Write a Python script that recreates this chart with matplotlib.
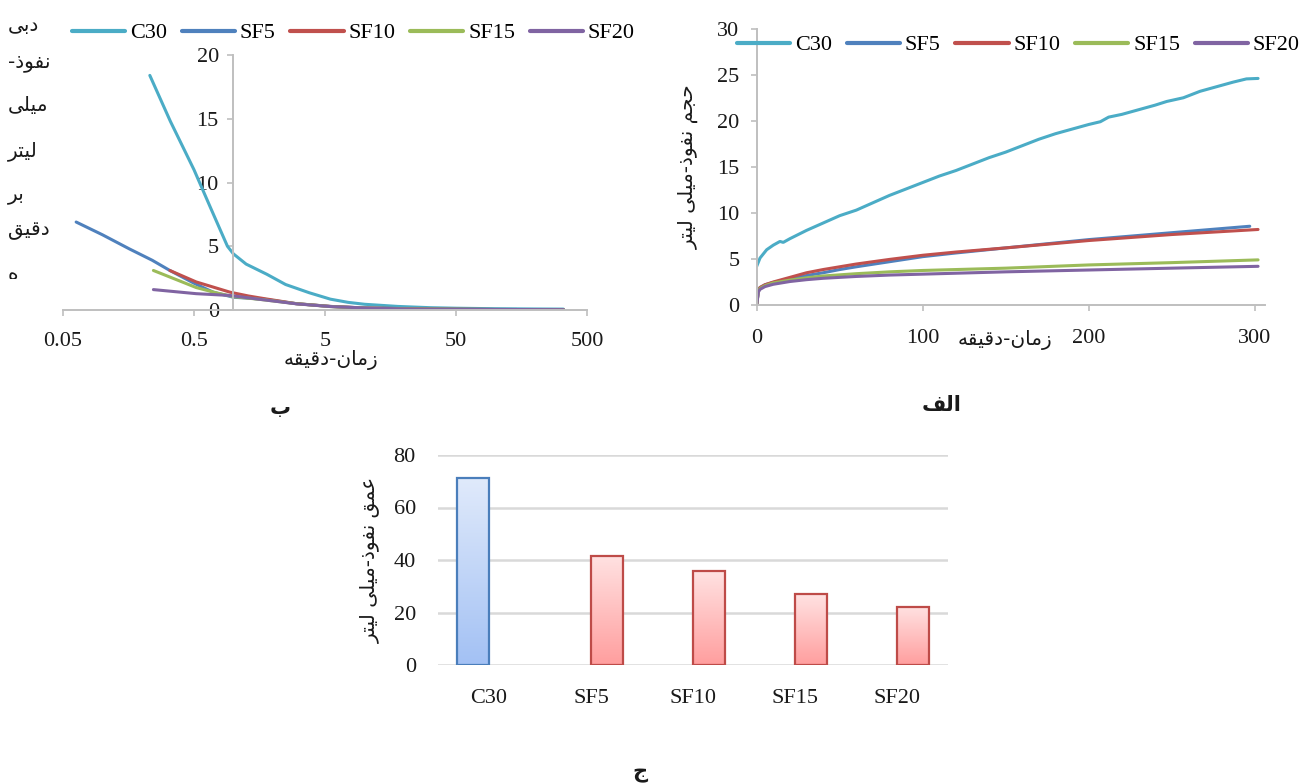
import numpy as np
import matplotlib
matplotlib.use("Agg")
import matplotlib.pyplot as plt
from matplotlib.transforms import Bbox
from matplotlib.colors import LinearSegmentedColormap

# ---------------- Persian shaping helper (matplotlib has no shaping) -------------
FORMS = {
    'ا': ('\uFE8D', '\uFE8E', None, None),
    'ب': ('\uFE8F', '\uFE90', '\uFE91', '\uFE92'),
    'ت': ('\uFE95', '\uFE96', '\uFE97', '\uFE98'),
    'ج': ('\uFE9D', '\uFE9E', '\uFE9F', '\uFEA0'),
    'ح': ('\uFEA1', '\uFEA2', '\uFEA3', '\uFEA4'),
    'د': ('\uFEA9', '\uFEAA', None, None),
    'ذ': ('\uFEAB', '\uFEAC', None, None),
    'ر': ('\uFEAD', '\uFEAE', None, None),
    'ز': ('\uFEAF', '\uFEB0', None, None),
    'ع': ('\uFEC9', '\uFECA', '\uFECB', '\uFECC'),
    'ف': ('\uFED1', '\uFED2', '\uFED3', '\uFED4'),
    'ق': ('\uFED5', '\uFED6', '\uFED7', '\uFED8'),
    'ل': ('\uFEDD', '\uFEDE', '\uFEDF', '\uFEE0'),
    'م': ('\uFEE1', '\uFEE2', '\uFEE3', '\uFEE4'),
    'ن': ('\uFEE5', '\uFEE6', '\uFEE7', '\uFEE8'),
    'ه': ('\uFEE9', '\uFEEA', '\uFEEB', '\uFEEC'),
    'و': ('\uFEED', '\uFEEE', None, None),
    'ی': ('\uFEEF', '\uFEF0', '\uFEF3', '\uFEF4'),
}


def fa(s):
    out = []
    n = len(s)
    for i, c in enumerate(s):
        if c not in FORMS:
            out.append(c)
            continue
        f = FORMS[c]
        prev = s[i - 1] if i > 0 else None
        nxt = s[i + 1] if i < n - 1 else None
        jp = prev in FORMS and FORMS[prev][2] is not None
        jn = nxt in FORMS and f[2] is not None
        if jp and jn:
            g = f[3]
        elif jp:
            g = f[1]
        elif jn:
            g = f[2]
        else:
            g = f[0]
        out.append(g)
    return ''.join(reversed(out))


# ---------------- data ----------------
series_names = ['C30', 'SF5', 'SF10', 'SF15', 'SF20']
colors = ['#4BACC6', '#4F81BD', '#C0504D', '#9BBB59', '#8064A2']

# panel (b): infiltration rate (ml/min) vs time (min), log x
c30_rate_t = [0.23, 0.33, 0.5, 0.67, 0.9, 1.0, 1.25, 1.8, 2.5, 3.8, 5.5, 7.5, 10, 18, 32, 50, 100, 200, 330]
c30_rate = [18.4, 14.8, 11.0, 8.0, 5.0, 4.4, 3.6, 2.8, 2.0, 1.35, 0.85, 0.6, 0.45, 0.28, 0.18, 0.14, 0.1, 0.08, 0.07]
sf5_rate_t = [0.063, 0.1, 0.16, 0.24, 0.327, 0.5, 0.7, 1.0, 1.7, 3.0, 5.5, 10, 32, 100, 330]
sf5_rate = [6.9, 5.9, 4.8, 3.9, 3.1, 2.1, 1.4, 1.0, 0.85, 0.5, 0.28, 0.16, 0.07, 0.04, 0.03]
sf10_rate_t = [0.327, 0.52, 0.94, 1.3, 1.7, 3.0, 5.5, 10, 32, 100, 330]
sf10_rate = [3.1, 2.2, 1.4, 1.1, 0.9, 0.5, 0.28, 0.16, 0.07, 0.04, 0.03]
sf15_rate_t = [0.245, 0.52, 0.75, 1.0, 1.7, 3.0, 5.5, 10, 32, 100, 330]
sf15_rate = [3.1, 1.76, 1.33, 1.05, 0.8, 0.5, 0.27, 0.15, 0.07, 0.04, 0.03]
sf20_rate_t = [0.245, 0.52, 0.94, 1.7, 3.05, 5.5, 10, 17.8, 32, 100, 330]
sf20_rate = [1.6, 1.28, 1.14, 0.8, 0.48, 0.27, 0.16, 0.1, 0.06, 0.04, 0.03]

# panel (a): cumulative infiltration volume (ml) vs time (min)
c30_vol_t = [0, 2, 6, 10, 14, 16, 20, 30, 40, 50, 60, 70, 80, 90, 100, 110, 120, 130, 140, 150,
             160, 170, 180, 190, 200, 207, 212, 220, 230, 240, 247, 257, 267, 277, 287, 295, 302]
c30_vol = [4.2, 5.1, 6.0, 6.5, 6.9, 6.8, 7.2, 8.1, 8.9, 9.7, 10.3, 11.1, 11.9, 12.6, 13.3, 14.0, 14.6, 15.3, 16.0, 16.6,
           17.3, 18.0, 18.6, 19.1, 19.6, 19.9, 20.4, 20.7, 21.2, 21.7, 22.1, 22.5, 23.2, 23.7, 24.2, 24.55, 24.6]
sf5_vol_t = [0, 1, 2, 5, 10, 20, 30, 40, 50, 60, 80, 100, 120, 150, 200, 250, 297]
sf5_vol = [0, 1.6, 1.9, 2.2, 2.45, 2.85, 3.2, 3.5, 3.85, 4.15, 4.7, 5.25, 5.65, 6.2, 7.1, 7.85, 8.55]
sf10_vol_t = [0, 1, 2, 5, 10, 20, 30, 40, 50, 60, 80, 100, 120, 150, 200, 250, 302]
sf10_vol = [0, 1.6, 1.9, 2.2, 2.5, 3.0, 3.5, 3.85, 4.15, 4.45, 4.95, 5.4, 5.75, 6.2, 7.0, 7.65, 8.2]
sf15_vol_t = [0, 1, 2, 5, 10, 20, 30, 40, 60, 80, 100, 150, 200, 250, 302]
sf15_vol = [0, 1.5, 1.8, 2.1, 2.4, 2.7, 2.95, 3.15, 3.4, 3.6, 3.75, 4.0, 4.35, 4.6, 4.9]
sf20_vol_t = [0, 1, 2, 5, 10, 20, 30, 40, 60, 80, 100, 150, 200, 250, 302]
sf20_vol = [0, 1.4, 1.7, 2.0, 2.25, 2.55, 2.75, 2.9, 3.1, 3.25, 3.35, 3.6, 3.8, 4.0, 4.2]

# panel (c): infiltration depth (bar chart)
bar_categories = ['C30', 'SF5', 'SF10', 'SF15', 'SF20']
depth_control = [71.2, 0, 0, 0, 0]
depth_silica = [0, 41.7, 35.8, 27.0, 22.2]

rate_x_ticks = [0.05, 0.5, 5, 50, 500]
rate_x_labels = ['0.05', '0.5', '5', '50', '500']

# ---------------- figure ----------------
W, H = 1308, 784
fig = plt.figure(figsize=(W / 100, H / 100), dpi=100)
SERIF = 'Liberation Serif'
FS = 16
FA_FS = 14.5
TXT = '#1a1a1a'
SPINE = '#BFBFBF'


def fx(px):
    return px / W


def fy(py):
    return 1 - py / H


# ----- panel (b) -----
ax1 = fig.add_axes([fx(63), fy(310), fx(587 - 63), (310 - 55) / H])
rate_t = [c30_rate_t, sf5_rate_t, sf10_rate_t, sf15_rate_t, sf20_rate_t]
rate_v = [c30_rate, sf5_rate, sf10_rate, sf15_rate, sf20_rate]
for t, v, c, n in zip(rate_t, rate_v, colors, series_names):
    ax1.plot(t, v, color=c, lw=2.2, label=n, solid_capstyle='round')
ax1.set_xscale('log')
ax1.set_xlim(0.05, 500)
ax1.set_ylim(0, 20)
ax1.set_xticks(rate_x_ticks)
ax1.set_xticklabels(rate_x_labels)
ax1.xaxis.set_minor_locator(matplotlib.ticker.NullLocator())
ax1.set_yticks([0, 5, 10, 15, 20])
ax1.spines['left'].set_position(('data', 1))
for s in ['top', 'right']:
    ax1.spines[s].set_visible(False)
for s in ['left', 'bottom']:
    ax1.spines[s].set_color(SPINE)
    ax1.spines[s].set_linewidth(1.4)
ax1.tick_params(axis='both', direction='out', length=4.5, width=1.2, color=SPINE,
                labelsize=FS, labelcolor=TXT)
ax1.tick_params(axis='x', pad=11)
ax1.tick_params(axis='y', pad=6)
for lab in ax1.get_xticklabels() + ax1.get_yticklabels():
    lab.set_fontfamily(SERIF)
ax1.patch.set_alpha(0)

leg1 = fig.legend(*ax1.get_legend_handles_labels(), loc='center left',
                  bbox_to_anchor=(fx(72), fy(33)), ncol=5, frameon=False,
                  prop={'family': SERIF, 'size': FS}, handlelength=2.4,
                  handletextpad=0.22, columnspacing=0.65, borderpad=0, borderaxespad=0)
for l in leg1.get_lines():
    l.set_linewidth(3)

# wrapped y label
ylab_lines = ['دبی', 'نفوذ-', 'میلی', 'لیتر', 'بر', 'دقیق', 'ه']
ylab_y = [25, 62, 106, 151, 194, 231, 274]
for s, yy in zip(ylab_lines, ylab_y):
    t = fig.text(fx(8), fy(yy), fa(s), ha='left', va='center', fontsize=FA_FS,
                 family='DejaVu Sans', color=TXT)
    if s == 'ه':
        t.set_clip_box(Bbox.from_extents(0, H - 279, 200, H))
        t.set_clip_on(True)

fig.text(fx(331), fy(360), fa('زمان-دقیقه'), ha='center', va='center', fontsize=FA_FS,
         family='DejaVu Sans', color=TXT)
fig.text(fx(280), fy(408), fa('ب'), ha='center', va='center', fontsize=15,
         family='DejaVu Sans', weight='bold', color=TXT)

# ----- panel (a) -----
ax2 = fig.add_axes([fx(756.7), fy(305), fx(508), (305 - 28.7) / H])
vol_t = [c30_vol_t, sf5_vol_t, sf10_vol_t, sf15_vol_t, sf20_vol_t]
vol_v = [c30_vol, sf5_vol, sf10_vol, sf15_vol, sf20_vol]
for t, v, c, n in zip(vol_t, vol_v, colors, series_names):
    ax2.plot(t, v, color=c, lw=2.2, label=n, solid_capstyle='round')
ax2.set_xlim(0, 306)
ax2.set_ylim(0, 30)
ax2.set_xticks([0, 100, 200, 300])
ax2.set_yticks([0, 5, 10, 15, 20, 25, 30])
for s in ['top', 'right']:
    ax2.spines[s].set_visible(False)
for s in ['left', 'bottom']:
    ax2.spines[s].set_color(SPINE)
    ax2.spines[s].set_linewidth(1.4)
ax2.tick_params(axis='both', direction='out', length=4.5, width=1.2, color=SPINE,
                labelsize=FS, labelcolor=TXT)
ax2.tick_params(axis='x', pad=13)
ax2.tick_params(axis='y', pad=8)
for lab in ax2.get_xticklabels() + ax2.get_yticklabels():
    lab.set_fontfamily(SERIF)
ax2.patch.set_alpha(0)

leg2 = fig.legend(*ax2.get_legend_handles_labels(), loc='center left',
                  bbox_to_anchor=(fx(737), fy(45)), ncol=5, frameon=False,
                  prop={'family': SERIF, 'size': FS}, handlelength=2.4,
                  handletextpad=0.22, columnspacing=0.65, borderpad=0, borderaxespad=0)
for l in leg2.get_lines():
    l.set_linewidth(3)

fig.text(fx(689), fy(167), fa('حجم نفوذ-میلی لیتر'), ha='center', va='center',
         rotation=90, fontsize=FA_FS, family='DejaVu Sans', color=TXT)
fig.text(fx(1005), fy(340), fa('زمان-دقیقه'), ha='center', va='center', fontsize=FA_FS,
         family='DejaVu Sans', color=TXT)
fig.text(fx(942), fy(405), fa('الف'), ha='center', va='center', fontsize=15,
         family='DejaVu Sans', weight='bold', color=TXT)

# ----- panel (c) -----
ax3 = fig.add_axes([fx(438), fy(665), fx(510), (665 - 455) / H])
xpos = np.arange(len(bar_categories))
bw = 0.31
b_blue = ax3.bar(xpos - bw / 2, depth_control, width=bw, facecolor='none',
                 edgecolor='#4A7EBB', linewidth=1.6, zorder=3)
b_red = ax3.bar(xpos + bw / 2, depth_silica, width=bw, facecolor='none',
                edgecolor='#BE4B48', linewidth=1.6, zorder=3)
cm_blue = LinearSegmentedColormap.from_list('b', ['#A3C1F4', '#E0EAFB'])
cm_red = LinearSegmentedColormap.from_list('r', ['#FF9E9E', '#FFE2E2'])
grad = np.linspace(0, 1, 256).reshape(-1, 1)
for bars, cm in [(b_blue, cm_blue), (b_red, cm_red)]:
    for p in bars:
        if p.get_height() <= 0:
            p.set_visible(False)
            continue
        x0, y0 = p.get_x(), p.get_y()
        ax3.imshow(grad, cmap=cm, origin='lower', aspect='auto', zorder=2,
                   extent=[x0, x0 + p.get_width(), y0, y0 + p.get_height()])
ax3.set_xlim(-0.5, len(bar_categories) - 0.5)
ax3.set_ylim(0, 80)
ax3.set_yticks([0, 20, 40, 60, 80])
ax3.set_xticks(xpos)
ax3.set_xticklabels(bar_categories)
ax3.yaxis.grid(True, color='#D9D9D9', linewidth=1.8)
ax3.set_axisbelow(True)
for s in ax3.spines.values():
    s.set_visible(False)
ax3.tick_params(axis='both', length=0, labelsize=FS, labelcolor=TXT)
ax3.tick_params(axis='x', pad=17)
ax3.tick_params(axis='y', pad=16)
for lab in ax3.get_xticklabels() + ax3.get_yticklabels():
    lab.set_fontfamily(SERIF)

fig.text(fx(370), fy(560), fa('عمق نفوذ-میلی لیتر'), ha='center', va='center',
         rotation=90, fontsize=FA_FS, family='DejaVu Sans', color=TXT)
fig.text(fx(640), fy(773), fa('ج'), ha='center', va='center', fontsize=15,
         family='DejaVu Sans', weight='bold', color=TXT)

fig.savefig('out.png', dpi=100)
